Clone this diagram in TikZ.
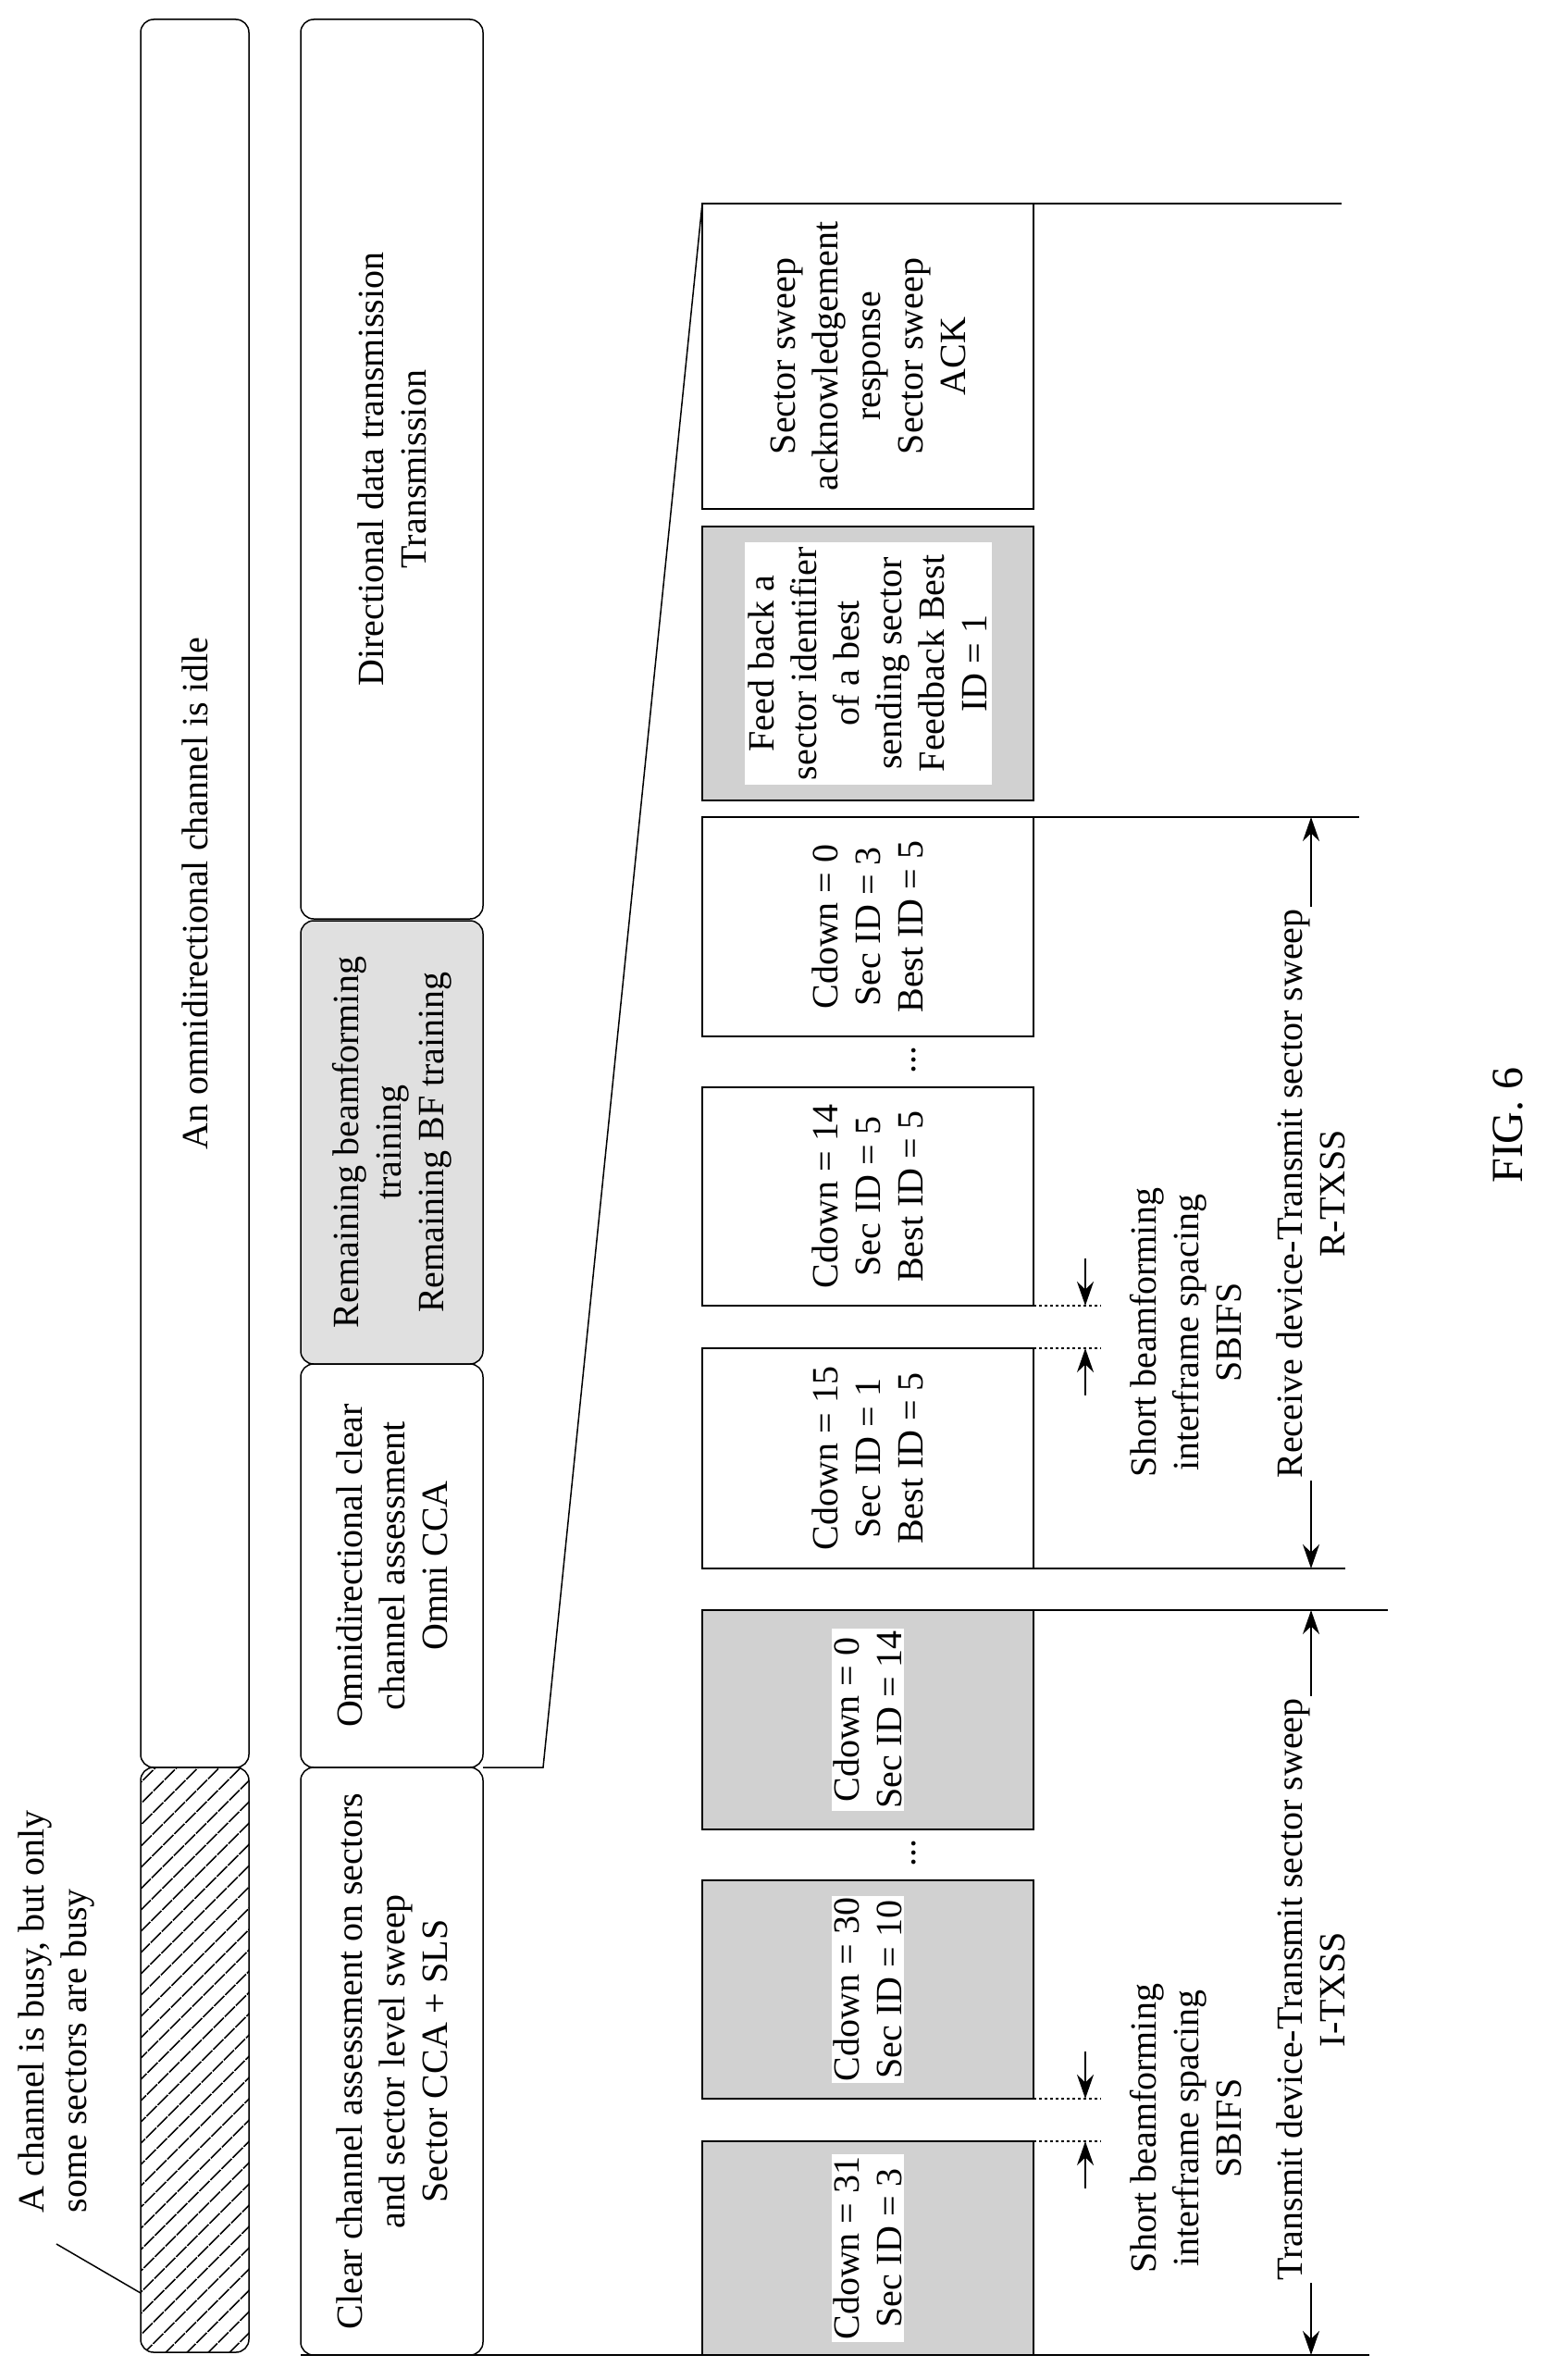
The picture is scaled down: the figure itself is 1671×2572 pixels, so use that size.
\documentclass[tikz,border=0pt]{standalone}
\usepackage{fontspec}
\setmainfont{Liberation Serif}
\usetikzlibrary{arrows.meta,patterns.meta}

\tikzset{
  bar/.style={draw, rounded corners=14pt, rotate=90, line width=1.5pt, align=center, inner sep=0pt},
  slot/.style={draw, rotate=90, line width=1.5pt, align=center, inner sep=0pt},
  label/.style={rotate=90, align=center, inner sep=2pt},
  tip/.style={-{Stealth[length=26pt,width=18pt]}, line width=1.5pt}
}

\begin{document}
\begin{tikzpicture}[x=1pt, y=-1pt, line width=1.5pt, font=\fontsize{40}{46}\selectfont]
    \useasboundingbox (0,0) rectangle (1671,2572);
    %% top row: channel state
        \node[bar, minimum width=1889pt, minimum height=117pt] (idle) at (210.5,965.5) {An omnidirectional channel is idle};
        \node[bar, minimum width=632pt, minimum height=117pt, pattern={Lines[angle=45,distance=17pt,line width=2pt]}] (busy) at (210.5,2226) {};
        \node[label, anchor=west, align=left] (busylbl) at (61,2394) {A channel is busy, but only\\some sectors are busy};
        \coordinate (busyin) at (152,2478);
        \draw ([yshift=-31pt]busylbl.west) -- (busyin);
    %% second row: phases
        \node[bar, minimum width=972pt, minimum height=197pt] (dir) at (423.5,507) {Directional data transmission\\Transmission};
        \node[bar, minimum width=479pt, minimum height=197pt, fill=black!12] (rem) at (423.5,1234.5) {Remaining beamforming\\training\\Remaining BF training};
        \node[bar, minimum width=436pt, minimum height=197pt] (omni) at (423.5,1692) {Omnidirectional clear\\channel assessment\\Omni CCA};
        \node[bar, minimum width=635pt, minimum height=197pt] (sec) at (423.5,2227.5) {Clear channel assessment on sectors\\and sector level sweep\\Sector CCA + SLS};
    %% zoom lines
        \coordinate (secr) at (522,1910);
        \coordinate (kink) at (587,1910);
        \coordinate (frametop) at (759,220);
        \draw (secr) -- (kink) -- (frametop);
        \coordinate (botl) at (325,2545);
        \coordinate (botr) at (1480,2545);
        \draw (botl) -- (botr);
    %% frames
        \node[slot, minimum width=330pt, minimum height=358pt] (ack) at (938,385) {Sector sweep\\acknowledgement\\response\\Sector sweep\\ACK};
        \node[slot, minimum width=296pt, minimum height=358pt, fill=black!18] (fb) at (938,717) {};
        \node[label, fill=white, minimum width=262pt, minimum height=267pt] (fbtxt) at (fb) {Feed back a\\sector identifier\\of a best\\sending sector\\Feedback Best\\ID = 1};
        \node[slot, minimum width=237pt, minimum height=358pt] (r0) at (938,1001.5) {Cdown = 0\\Sec ID = 3\\Best ID = 5};
        \node[slot, minimum width=236pt, minimum height=358pt] (r14) at (938,1293) {Cdown = 14\\Sec ID = 5\\Best ID = 5};
        \node[slot, minimum width=238pt, minimum height=358pt] (r15) at (938,1576) {Cdown = 15\\Sec ID = 1\\Best ID = 5};
        \node[slot, minimum width=237pt, minimum height=358pt, fill=black!18] (t0) at (938,1858.5) {};
        \node[label, fill=white] at (t0) {Cdown = 0\\Sec ID = 14};
        \node[slot, minimum width=236pt, minimum height=358pt, fill=black!18] (t30) at (938,2150) {};
        \node[label, fill=white] at (t30) {Cdown = 30\\Sec ID = 10};
        \node[slot, minimum width=231pt, minimum height=358pt, fill=black!18] (t31) at (938,2429.5) {};
        \node[label, fill=white] at (t31) {Cdown = 31\\Sec ID = 3};
        \node[label] (dotsr) at (988,1145) {...};
        \node[label] (dotst) at (988,2002) {...};
    %% guide lines right of the frames
        \draw (1117,220) -- (1450,220);
        \draw (1117,883) -- (1469,883);
        \draw (1117,1695) -- (1454,1695);
        \draw (1117,1740) -- (1500,1740);
    %% SBIFS gaps
        \draw[dashed] (1117,1411) -- (1190,1411);
        \draw[dashed] (1117,1457) -- (1190,1457);
        \draw[dashed] (1117,2268) -- (1190,2268);
        \draw[dashed] (1117,2314) -- (1190,2314);
        \draw[tip] (1173,1360) -- (1173,1411);
        \draw[tip] (1173,1508) -- (1173,1457);
        \draw[tip] (1173,2217) -- (1173,2268);
        \draw[tip] (1173,2365) -- (1173,2314);
        \node[label] (sbifsr) at (1282,1440) {Short beamforming\\interframe spacing\\SBIFS};
        \node[label] (sbifst) at (1282,2300) {Short beamforming\\interframe spacing\\SBIFS};
    %% sweep spans
        \node[label] (rtxss) at (1417,1290) {Receive device-Transmit sector sweep\\R-TXSS};
        \node[label] (itxss) at (1417,2150) {Transmit device-Transmit sector sweep\\I-TXSS};
        \draw[tip] (rtxss.east) -- (1417,883);
        \draw[tip] (rtxss.west) -- (1417,1695);
        \draw[tip] (itxss.east) -- (1417,1740);
        \draw[tip] (itxss.west) -- (1417,2545);
        \node[label, font=\fontsize{48}{54}\selectfont] (fig) at (1630,1216) {FIG. 6};
\end{tikzpicture}
\end{document}
